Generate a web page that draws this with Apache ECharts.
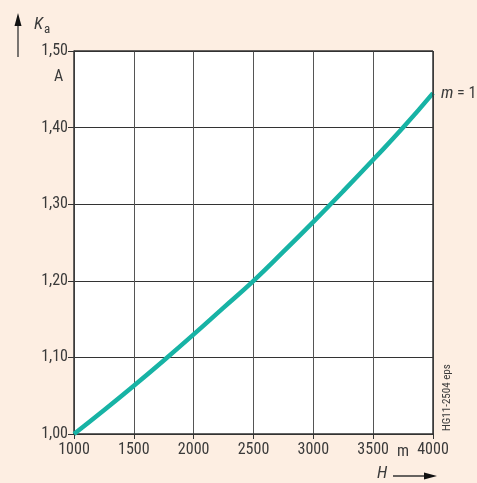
<!DOCTYPE html>
<html>
<head>
<meta charset="utf-8">
<script src="https://cdn.jsdelivr.net/npm/echarts@6/dist/echarts.min.js"></script>
<style>
  html, body { margin: 0; padding: 0; background: #fdeee2; }
  #chart { width: 477px; height: 483px; }
</style>
</head>
<body>
<div id="chart"></div>
<script>
// Altitude H (m) and correction factor Ka for m = 1
const altitude = [1000, 1250, 1500, 1750, 2000, 2250, 2500, 2750, 3000, 3250, 3500, 3750, 4000];
const kaValues = [1.000, 1.031, 1.063, 1.096, 1.130, 1.165, 1.200, 1.238, 1.277, 1.317, 1.358, 1.400, 1.445];
const yTicks = [1.00, 1.10, 1.20, 1.30, 1.40, 1.50];
const xTicks = [1000, 1500, 2000, 2500, 3000, 3500, 4000];

const FONT = '"Liberation Sans Narrow", "Roboto Condensed", "Liberation Sans", sans-serif';
const TXT = '#3a3a3a';

const chart = echarts.init(document.getElementById('chart'));
chart.setOption({
  backgroundColor: '#fdeee2',
  animation: false,
  grid: { left: 74, right: 44, top: 51, bottom: 49, show: true, backgroundColor: '#ffffff', borderWidth: 0 },
  xAxis: {
    type: 'value', min: xTicks[0], max: xTicks[xTicks.length - 1], interval: 500,
    axisLine: { show: true, lineStyle: { color: '#333', width: 1.5 } },
    axisTick: { show: true, length: 5, lineStyle: { color: '#333' } },
    splitLine: { show: true, lineStyle: { color: '#555', width: 1 } },
    axisLabel: {
      color: TXT, fontSize: 16, fontFamily: FONT, margin: 8,
      formatter: v => xTicks.includes(v) ? String(v) : ''
    }
  },
  yAxis: {
    type: 'value', min: yTicks[0], max: yTicks[yTicks.length - 1], interval: 0.1,
    axisLine: { show: true, lineStyle: { color: '#333', width: 1.5 } },
    axisTick: { show: true, length: 6, lineStyle: { color: '#333' } },
    splitLine: { show: true, lineStyle: { color: '#333', width: 1 } },
    axisLabel: {
      color: TXT, fontSize: 16, fontFamily: FONT, margin: 6,
      formatter: v => v.toFixed(2).replace('.', ',')
    }
  },
  series: [{
    type: 'line',
    data: altitude.map((h, i) => [h, kaValues[i]]),
    smooth: 0.5,
    showSymbol: false,
    lineStyle: { color: '#17b3a5', width: 4.5 },
    z: 5
  }],
  graphic: [
    // top and right frame lines
    { type: 'line', shape: { x1: 433, y1: 51, x2: 433, y2: 434 }, style: { stroke: '#333', lineWidth: 1.5 }, z: 10 },
    { type: 'line', shape: { x1: 74, y1: 51, x2: 433, y2: 51 }, style: { stroke: '#333', lineWidth: 1.5 }, z: 10 },
    // Ka axis arrow
    { type: 'line', shape: { x1: 18, y1: 57, x2: 18, y2: 22 }, style: { stroke: '#333', lineWidth: 1.3 } },
    { type: 'polygon', shape: { points: [[18, 13], [14.5, 26], [21.5, 26]] }, style: { fill: '#111' } },
    {
      type: 'text', left: 34, top: 16,
      style: {
        text: '{k|K}{s|a}', fill: TXT,
        rich: {
          k: { fontSize: 17, fontStyle: 'italic', fontFamily: FONT, fill: TXT },
          s: { fontSize: 13, fontFamily: FONT, fill: TXT, padding: [10, 0, 0, 1] }
        }
      }
    },
    { type: 'text', left: 54, top: 69, style: { text: 'A', fontSize: 16, fontFamily: FONT, fill: TXT } },
    // unit m between last tick labels
    { type: 'text', left: 397, top: 444, style: { text: 'm', fontSize: 16, fontFamily: FONT, fill: TXT } },
    // H axis arrow
    {
      type: 'text', left: 377, top: 465,
      style: { text: 'H', fontSize: 17, fontStyle: 'italic', fontFamily: FONT, fill: TXT }
    },
    { type: 'line', shape: { x1: 393, y1: 476, x2: 428, y2: 476 }, style: { stroke: '#333', lineWidth: 1.3 } },
    { type: 'polygon', shape: { points: [[437, 476], [424, 472.5], [424, 479.5]] }, style: { fill: '#111' } },
    // curve parameter
    {
      type: 'text', left: 441, top: 85,
      style: {
        text: '{i|m} = 1', fontSize: 16, fontFamily: FONT, fill: TXT,
        rich: { i: { fontStyle: 'italic', fontSize: 17, fontFamily: FONT, fill: TXT } }
      }
    },
    // drawing reference, rotated
    {
      type: 'text', x: 447, y: 431, rotation: Math.PI / 2,
      style: { text: 'HG11-2504 eps', fontSize: 11, fontFamily: FONT, fill: TXT, align: 'left', verticalAlign: 'middle' }
    }
  ]
});
</script>
</body>
</html>
